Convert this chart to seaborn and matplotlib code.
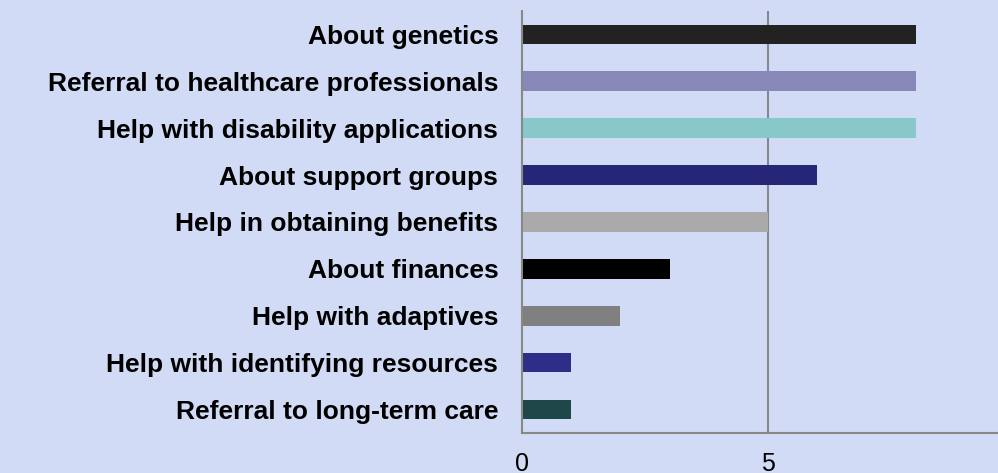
import matplotlib
matplotlib.use("Agg")
import matplotlib.pyplot as plt
import seaborn as sns
import pandas as pd
import numpy as np

# data
categories = [
    "About genetics",
    "Referral to healthcare professionals",
    "Help with disability applications",
    "About support groups",
    "Help in obtaining benefits",
    "About finances",
    "Help with adaptives",
    "Help with identifying resources",
    "Referral to long-term care",
]
counts = [8, 8, 8, 6, 5, 3, 2, 1, 1]
bar_colors = ["#222222", "#8888b8", "#88c8c8", "#262678", "#aaaaaa",
              "#000000", "#808080", "#2e2e88", "#1f4747"]
x_ticks = [0, 5, 10]

df = pd.DataFrame({"item": categories, "n": counts})

sns.set_style("white")
plt.rcParams["font.family"] = ["Liberation Sans", "DejaVu Sans"]
plt.rcParams["text.color"] = "black"
plt.rcParams["xtick.labelcolor"] = "black"
plt.rcParams["ytick.labelcolor"] = "black"

bg = "#d2dbf5"
fig = plt.figure(figsize=(9.98, 4.73), dpi=100, facecolor=bg)
ax = fig.add_axes([0.523, 0.0846, 0.493, 0.8922])
ax.set_facecolor(bg)

sns.barplot(data=df, x="n", y="item", hue="item", palette=bar_colors,
            legend=False, width=0.42, saturation=1, linewidth=0, ax=ax)

ax.set_xlim(0, 10)
ax.set_xticks(x_ticks)
ax.set_xticklabels([str(t) for t in x_ticks], fontsize=18)
for t in x_ticks[1:]:
    ax.axvline(t, color="#888888", lw=1.5, zorder=0)

# category labels at bar centres, tick marks between categories
ax.set_yticks(np.arange(len(categories)))
ax.set_yticklabels(categories, fontsize=19, fontweight="bold")
ax.set_yticks(np.arange(len(categories) + 1) - 0.5, minor=True)
ax.tick_params(axis="y", which="major", length=0, pad=17)
ax.tick_params(axis="y", which="minor", length=6, width=1.5, color="#888888", direction="out")
ax.tick_params(axis="x", length=5.5, width=1.5, color="#888888", direction="out", pad=8)
ax.set_xlabel("")
ax.set_ylabel("")

for side in ["top", "right"]:
    ax.spines[side].set_visible(False)
for side in ["left", "bottom"]:
    ax.spines[side].set_color("#888888")
    ax.spines[side].set_linewidth(1.5)

fig.savefig("out.png", dpi=100, facecolor=bg)
